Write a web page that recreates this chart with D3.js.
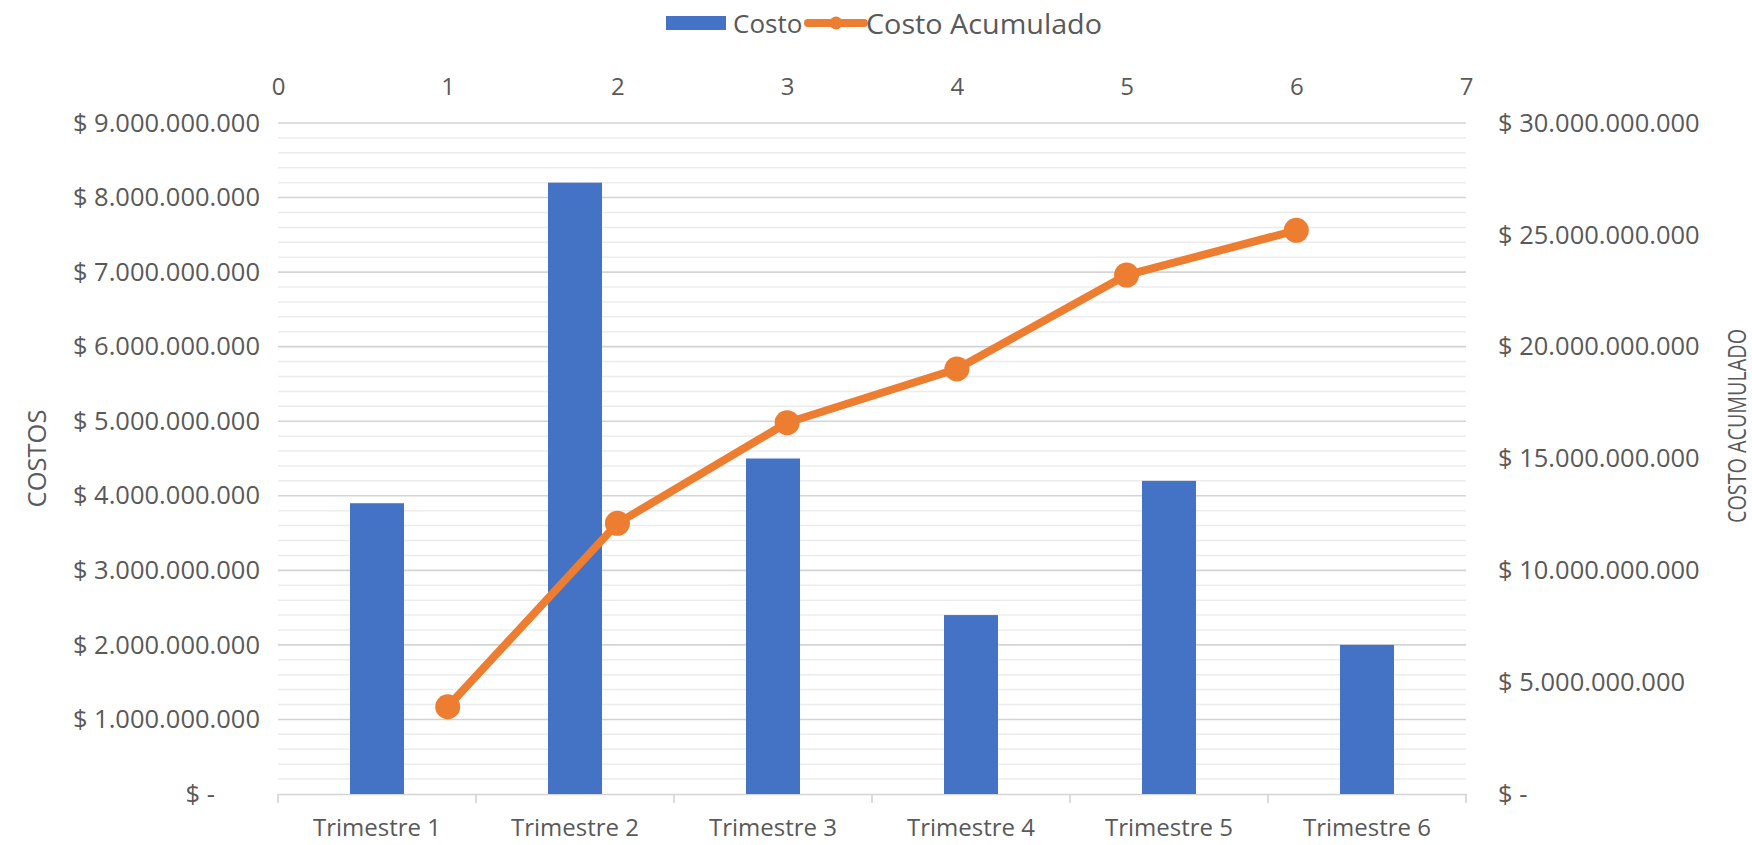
<!DOCTYPE html>
<html>
<head>
<meta charset="utf-8">
<script src="https://cdn.jsdelivr.net/npm/d3@7"></script>
<style>
  html, body { margin: 0; padding: 0; background: #ffffff; }
  svg { display: block; }
  text { font-family: "Open Sans", "Noto Sans", sans-serif; fill: #595959; }
</style>
</head>
<body>
<svg id="chart" width="1752" height="845"></svg>
<script>
// ---- data ----
const categories = ["Trimestre 1", "Trimestre 2", "Trimestre 3", "Trimestre 4", "Trimestre 5", "Trimestre 6"];
const costo = [3.9e9, 8.2e9, 4.5e9, 2.4e9, 4.2e9, 2.0e9];
const acumuladoX = [1, 2, 3, 4, 5, 6];
const acumulado = [3.9e9, 12.1e9, 16.6e9, 19.0e9, 23.2e9, 25.2e9];
const topTicks = [0, 1, 2, 3, 4, 5, 6, 7];
const leftTicks = [0, 1e9, 2e9, 3e9, 4e9, 5e9, 6e9, 7e9, 8e9, 9e9];
const rightTicks = [0, 5e9, 10e9, 15e9, 20e9, 25e9, 30e9];
const legendLabels = ["Costo", "Costo Acumulado"];
const leftTitle = "COSTOS";
const rightTitle = "COSTO ACUMULADO";

// ---- layout ----
const plot = { left: 278, right: 1466, top: 123, bottom: 794 };
const blue = "#4472C4", orange = "#ED7D31";
const fontSize = 24, valFont = 25.5;

const svg = d3.select("#chart");

const x = d3.scaleBand().domain(categories).range([plot.left, plot.right]).paddingInner(0).paddingOuter(0);
const xTop = d3.scaleLinear().domain([0, 7]).range([plot.left, plot.right]);
const yL = d3.scaleLinear().domain([0, 9e9]).range([plot.bottom, plot.top]);
const yR = d3.scaleLinear().domain([0, 30e9]).range([plot.bottom, plot.top]);

const loc = d3.formatLocale({ decimal: ",", thousands: ".", grouping: [3], currency: ["$ ", ""] });
const money = v => v === 0 ? "$ -" : loc.format("$,.0f")(v);

// minor gridlines
const minor = d3.range(0, 9e9 + 1, 0.2e9).filter((v, i) => i % 5 !== 0);
svg.append("g").selectAll("line").data(minor).join("line")
  .attr("x1", plot.left).attr("x2", plot.right)
  .attr("y1", d => yL(d)).attr("y2", d => yL(d))
  .attr("stroke", "#ececec").attr("stroke-width", 1.5);

// major gridlines
svg.append("g").selectAll("line").data(leftTicks.filter(d => d > 0)).join("line")
  .attr("x1", plot.left).attr("x2", plot.right)
  .attr("y1", d => yL(d)).attr("y2", d => yL(d))
  .attr("stroke", "#d4d4d4").attr("stroke-width", 1.6);

// bottom axis
const bottomAxis = d3.axisBottom(x).tickSize(0).tickPadding(25);
const gB = svg.append("g").attr("transform", `translate(0,${plot.bottom})`).call(bottomAxis);
gB.select(".domain").attr("stroke", "#d4d4d4").attr("stroke-width", 1.6);
gB.selectAll("text").style("font-size", fontSize + "px").attr("fill", "#595959");
// category boundary tick marks
const bounds = categories.map(c => x(c)).concat([plot.right]);
svg.append("g").selectAll("line").data(bounds).join("line")
  .attr("x1", d => d).attr("x2", d => d)
  .attr("y1", plot.bottom).attr("y2", plot.bottom + 9)
  .attr("stroke", "#d4d4d4").attr("stroke-width", 1.6);

// top secondary horizontal axis (labels only)
const gT = svg.append("g").attr("transform", `translate(0,${plot.top - 30})`)
  .call(d3.axisTop(xTop).tickValues(topTicks).tickFormat(d3.format("d")).tickSize(0).tickPadding(0));
gT.select(".domain").remove();
gT.selectAll("text").style("font-size", fontSize + "px").attr("fill", "#595959").attr("dy", "0.1em");

// left axis
const gL = svg.append("g").attr("transform", `translate(${plot.left - 18},0)`)
  .call(d3.axisLeft(yL).tickValues(leftTicks).tickFormat(money).tickSize(0).tickPadding(0));
gL.select(".domain").remove();
gL.selectAll("text").style("font-size", valFont + "px").attr("fill", "#595959")
  .attr("dx", d => d === 0 ? -45 : 0);

// right axis
const gR = svg.append("g").attr("transform", `translate(${plot.right + 32},0)`)
  .call(d3.axisRight(yR).tickValues(rightTicks).tickFormat(money).tickSize(0).tickPadding(0));
gR.select(".domain").remove();
gR.selectAll("text").style("font-size", valFont + "px").attr("fill", "#595959");

// bars
const barW = 54;
svg.append("g").selectAll("rect").data(costo).join("rect")
  .attr("x", (d, i) => x(categories[i]) + x.bandwidth() / 2 - barW / 2)
  .attr("width", barW)
  .attr("y", d => yL(d))
  .attr("height", d => plot.bottom - yL(d))
  .attr("fill", blue);

// line
const pts = acumulado.map((v, i) => [xTop(acumuladoX[i]), yR(v)]);
svg.append("path").datum(pts)
  .attr("d", d3.line())
  .attr("fill", "none").attr("stroke", orange).attr("stroke-width", 8)
  .attr("stroke-linejoin", "round").attr("stroke-linecap", "round");
svg.append("g").selectAll("circle").data(pts).join("circle")
  .attr("cx", d => d[0]).attr("cy", d => d[1]).attr("r", 12.5).attr("fill", orange);

// axis titles
svg.append("text").attr("transform", `translate(36,${(plot.top + plot.bottom) / 2}) rotate(-90)`)
  .attr("text-anchor", "middle").attr("dominant-baseline", "central")
  .style("font-size", "25.5px").text(leftTitle);
svg.append("text").attr("transform", `translate(1736,426) rotate(-90)`)
  .attr("text-anchor", "middle").attr("dominant-baseline", "central")
  .attr("textLength", 194).attr("lengthAdjust", "spacingAndGlyphs")
  .style("font-size", "25px").text(rightTitle);

// legend
const lg = svg.append("g").attr("transform", "translate(0,23)");
lg.append("rect").attr("x", 666).attr("y", -7).attr("width", 60).attr("height", 14).attr("fill", blue);
lg.append("text").attr("x", 733).attr("y", 0).attr("dominant-baseline", "central")
  .style("font-size", "26px").text(legendLabels[0]);
lg.append("line").attr("x1", 808).attr("x2", 864).attr("y1", 0).attr("y2", 0)
  .attr("stroke", orange).attr("stroke-width", 8).attr("stroke-linecap", "round");
lg.append("circle").attr("cx", 836).attr("cy", 0).attr("r", 6.5).attr("fill", orange);
lg.append("text").attr("x", 866).attr("y", 0).attr("dominant-baseline", "central")
  .attr("textLength", 236).attr("lengthAdjust", "spacingAndGlyphs")
  .style("font-size", "27px").text(legendLabels[1]);
</script>
</body>
</html>
